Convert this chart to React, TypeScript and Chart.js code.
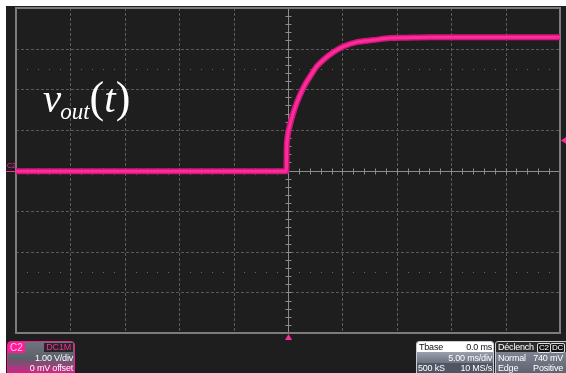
import React, { useEffect, useRef } from "react";
import { Chart, registerables } from "chart.js";

Chart.register(...registerables);

const timeMs = [-25, -0.15, -0.12, -0.06, 0.18, 0.49, 0.8, 1.1, 1.56, 2.02, 2.64, 3.24, 4.16, 5.08, 6.31, 7.84, 9.38, 10.9, 13, 25];
const voltsV = [-0.02, -0.02, 0.55, 0.79, 1.12, 1.42, 1.66, 1.86, 2.11, 2.31, 2.56, 2.72, 2.91, 3.05, 3.16, 3.21, 3.26, 3.27, 3.28, 3.28];

const timeTicksMs = [-25, -20, -15, -10, -5, 0, 5, 10, 15, 20, 25];
const voltTicksV = [-4, -3, -2, -1, 0, 1, 2, 3, 4];
const dottedLevelsV = [2.5, -2.5];
const minorPerDiv = 5;
const triggerTimeMs = 0;
const triggerLevelV = 0.74;

const channelInfo = ["C2", "DC1M", "1.00 V/div", "0 mV offset"];
const timebaseInfo = ["Tbase", "0.0 ms", "5.00 ms/div", "500 kS", "10 MS/s"];
const triggerInfo = ["Déclench", "C2", "DC", "Normal", "740 mV", "Edge", "Positive"];

const TRACE = "#ff2a9c";
const TRACE_DARK = "#cf1877";

const scopePlugin = {
  id: "scopeScreen",
  beforeDraw(chart: any) {
    const { ctx, width, height } = chart;
    ctx.save();
    ctx.fillStyle = "#ffffff";
    ctx.fillRect(0, 0, width, height);
    ctx.fillStyle = "#1e1e1e";
    ctx.fillRect(6, 6, width - 6, height - 6);
    ctx.restore();
  },
  beforeDatasetsDraw(chart: any) {
    const { ctx, chartArea: a, scales } = chart;
    const x = scales.x;
    const y = scales.y;
    const px = (v: number) => Math.round(x.getPixelForValue(v)) + 0.5;
    const py = (v: number) => Math.round(y.getPixelForValue(v)) + 0.5;
    const tMin = timeTicksMs[0];
    const tMax = timeTicksMs[timeTicksMs.length - 1];
    const vMin = voltTicksV[0];
    const vMax = voltTicksV[voltTicksV.length - 1];
    ctx.save();
    // dashed major grid
    ctx.strokeStyle = "#5a5a5a";
    ctx.lineWidth = 1;
    ctx.setLineDash([3, 2]);
    ctx.beginPath();
    timeTicksMs.forEach((t) => {
      if (t === tMin || t === tMax || t === 0) return;
      ctx.moveTo(px(t), a.top);
      ctx.lineTo(px(t), a.bottom);
    });
    voltTicksV.forEach((v) => {
      if (v === vMin || v === vMax || v === 0) return;
      ctx.moveTo(a.left, py(v));
      ctx.lineTo(a.right, py(v));
    });
    ctx.stroke();
    ctx.setLineDash([]);
    // sparse dotted levels
    const tStep = (timeTicksMs[1] - timeTicksMs[0]) / minorPerDiv;
    ctx.fillStyle = "#666666";
    dottedLevelsV.forEach((v) => {
      const yy = Math.round(y.getPixelForValue(v));
      for (let i = 1; i < (tMax - tMin) / tStep; i++) {
        if (i % minorPerDiv === 0) continue;
        const xx = Math.round(x.getPixelForValue(tMin + i * tStep));
        ctx.fillRect(xx, yy, 1, 1);
      }
    });
    // center axes
    ctx.strokeStyle = "#8c8c8c";
    ctx.beginPath();
    ctx.moveTo(px(0), a.top);
    ctx.lineTo(px(0), a.bottom);
    ctx.moveTo(a.left, py(0));
    ctx.lineTo(a.right, py(0));
    for (let i = 1; i < (tMax - tMin) / tStep; i++) {
      const xx = px(tMin + i * tStep);
      ctx.moveTo(xx, py(0) - 3);
      ctx.lineTo(xx, py(0) + 3);
    }
    const vStep = (voltTicksV[1] - voltTicksV[0]) / minorPerDiv;
    for (let i = 1; i < (vMax - vMin) / vStep; i++) {
      const yy = py(vMin + i * vStep);
      ctx.moveTo(px(0) - 3, yy);
      ctx.lineTo(px(0) + 3, yy);
    }
    ctx.stroke();
    // border
    ctx.strokeStyle = "#7c7c7c";
    ctx.lineWidth = 2;
    ctx.strokeRect(a.left, a.top, a.right - a.left, a.bottom - a.top);
    ctx.restore();
  },
  afterDatasetsDraw(chart: any) {
    const { ctx, chartArea: a, scales } = chart;
    const x = scales.x;
    const y = scales.y;
    ctx.save();
    ctx.fillStyle = TRACE;
    // trigger time marker
    const tx = Math.round(x.getPixelForValue(triggerTimeMs)) + 0.5;
    ctx.beginPath();
    ctx.moveTo(tx, a.bottom + 1);
    ctx.lineTo(tx + 3.5, a.bottom + 7);
    ctx.lineTo(tx - 3.5, a.bottom + 7);
    ctx.closePath();
    ctx.fill();
    // trigger level marker
    const ly = y.getPixelForValue(triggerLevelV);
    ctx.beginPath();
    ctx.moveTo(a.right + 1, ly);
    ctx.lineTo(a.right + 7, ly - 4);
    ctx.lineTo(a.right + 7, ly + 4);
    ctx.closePath();
    ctx.fill();
    // channel ground marker
    const gy = Math.round(y.getPixelForValue(0)) + 0.5;
    ctx.strokeStyle = TRACE;
    ctx.lineWidth = 1;
    ctx.beginPath();
    ctx.moveTo(6, gy);
    ctx.lineTo(a.left, gy);
    ctx.stroke();
    ctx.restore();
  },
};

const sans = '"Liberation Sans", Arial, sans-serif';
const abs = (s: React.CSSProperties): React.CSSProperties => ({ position: "absolute", ...s });

export default function App() {
  const canvasRef = useRef<HTMLCanvasElement | null>(null);

  useEffect(() => {
    if (!canvasRef.current) return;
    const points = timeMs.map((t, i) => ({ x: t, y: voltsV[i] }));
    const chart = new Chart(canvasRef.current, {
      type: "line",
      data: {
        datasets: [
          { data: points, borderColor: TRACE, borderWidth: 3, pointRadius: 0, cubicInterpolationMode: "monotone", fill: false },
          { data: points, borderColor: TRACE_DARK, borderWidth: 6, pointRadius: 0, cubicInterpolationMode: "monotone", fill: false },
        ],
      },
      options: {
        animation: false,
        responsive: false,
        devicePixelRatio: 1,
        events: [],
        layout: { padding: { left: 16, right: 6, top: 8, bottom: 40 } },
        scales: {
          x: { type: "linear", min: timeTicksMs[0], max: timeTicksMs[timeTicksMs.length - 1], display: false },
          y: { type: "linear", min: voltTicksV[0], max: voltTicksV[voltTicksV.length - 1], display: false },
        },
        plugins: { legend: { display: false }, tooltip: { enabled: false } },
      },
      plugins: [scopePlugin],
    });
    return () => chart.destroy();
  }, []);

  const white = "#ffffff";
  const txt: React.CSSProperties = { fontFamily: sans, fontSize: 9, letterSpacing: -0.2, color: white, whiteSpace: "nowrap" };
  return (
    <div style={{ position: "fixed", left: 0, top: 0, width: 566, height: 373, overflow: "hidden", background: "#fff" }}>
      <canvas ref={canvasRef} width={566} height={373} style={{ position: "absolute", left: 0, top: 0, width: 566, height: 373 }} />

      {/* v_out(t) label */}
      <div style={abs({ left: 43, top: 73, color: white, fontFamily: '"Liberation Serif", "DejaVu Serif", serif', whiteSpace: "nowrap", lineHeight: "50px" })}>
        <span style={{ fontStyle: "italic", fontSize: 41 }}>v</span>
        <span style={{ fontStyle: "italic", fontSize: 23, position: "relative", top: 7, marginLeft: -1 }}>out</span>
        <span style={{ fontSize: 44 }}>(</span>
        <span style={{ fontStyle: "italic", fontSize: 41 }}>t</span>
        <span style={{ fontSize: 44 }}>)</span>
      </div>

      {/* channel label at left */}
      <div style={abs({ left: 7, top: 162, color: TRACE, fontFamily: sans, fontSize: 7, lineHeight: "8px" })}>C2</div>

      {/* channel panel */}
      <div style={abs({ ...txt, left: 7, top: 341, width: 66, height: 33, border: "1px solid #e8238f", borderRadius: 4, overflow: "hidden", background: "linear-gradient(#70747f, #5c606b 50%, #e31c8a)" })}>
        <div style={abs({ left: 0, top: 0, background: "#ff1a96", color: "#ffc4e4", padding: "0 2px", lineHeight: "11px", fontSize: 10, letterSpacing: 0 })}>{channelInfo[0]}</div>
        <div style={abs({ right: 1, top: 1, background: "#262626", color: TRACE, padding: "0 2px", lineHeight: "9px", fontSize: 9 })}>{channelInfo[1]}</div>
        <div style={abs({ right: 1, top: 11, lineHeight: "10px" })}>{channelInfo[2]}</div>
        <div style={abs({ right: 1, top: 21, lineHeight: "10px" })}>{channelInfo[3]}</div>
      </div>

      {/* timebase panel */}
      <div style={abs({ ...txt, left: 416, top: 341, width: 76, height: 33, border: "1px solid #c8ccd4", borderRadius: 3, overflow: "hidden", background: "#4f5563" })}>
        <div style={abs({ left: 0, top: 0, width: 76, height: 10, background: "#ffffff" })} />
        <div style={abs({ left: 2, top: 0, lineHeight: "10px", color: "#111" })}>{timebaseInfo[0]}</div>
        <div style={abs({ right: 1, top: 0, lineHeight: "10px", color: "#111" })}>{timebaseInfo[1]}</div>
        <div style={abs({ left: 0, top: 10, width: 76, height: 11, background: "linear-gradient(#9aa0ad, #6c7281)" })} />
        <div style={abs({ right: 1, top: 11, lineHeight: "10px" })}>{timebaseInfo[2]}</div>
        <div style={abs({ left: 1, top: 21, lineHeight: "10px" })}>{timebaseInfo[3]}</div>
        <div style={abs({ right: 1, top: 21, lineHeight: "10px" })}>{timebaseInfo[4]}</div>
      </div>

      {/* trigger panel */}
      <div style={abs({ ...txt, left: 495, top: 341, width: 72, height: 33, border: "1px solid #c8ccd4", borderRadius: 3, overflow: "hidden", background: "linear-gradient(#8c92a0, #5a606e)" })}>
        <div style={abs({ left: 0, top: 0, width: 72, height: 10, background: "#2b2b2b" })} />
        <div style={abs({ left: 2, top: 0, lineHeight: "10px" })}>{triggerInfo[0]}</div>
        <div style={abs({ left: 41, top: 1, lineHeight: "8px", fontSize: 8, background: "#111", border: "1px solid #ddd", borderRadius: 2, padding: "0 1px" })}>{triggerInfo[1]}</div>
        <div style={abs({ left: 54, top: 1, lineHeight: "8px", fontSize: 8, background: "#111", border: "1px solid #ddd", borderRadius: 2, padding: "0 1px" })}>{triggerInfo[2]}</div>
        <div style={abs({ left: 2, top: 11, lineHeight: "10px" })}>{triggerInfo[3]}</div>
        <div style={abs({ right: 5, top: 11, lineHeight: "10px" })}>{triggerInfo[4]}</div>
        <div style={abs({ left: 2, top: 21, lineHeight: "10px" })}>{triggerInfo[5]}</div>
        <div style={abs({ right: 5, top: 21, lineHeight: "10px" })}>{triggerInfo[6]}</div>
      </div>
    </div>
  );
}
